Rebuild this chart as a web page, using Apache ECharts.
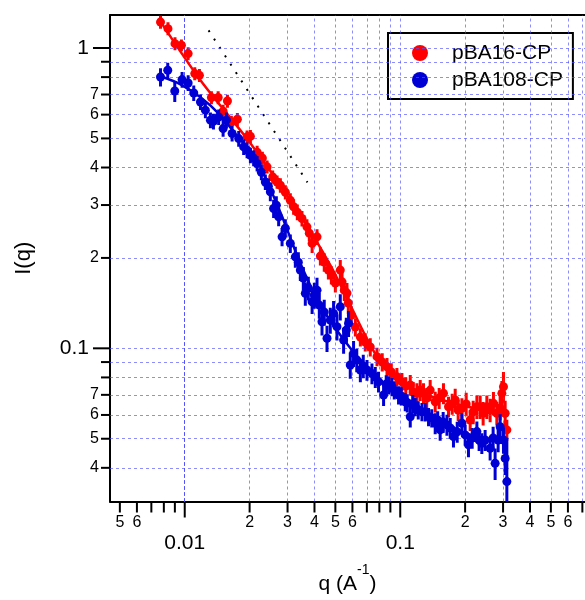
<!DOCTYPE html>
<html><head><meta charset="utf-8">
<script src="https://cdn.jsdelivr.net/npm/echarts@6/dist/echarts.min.js"></script>
<style>html,body{margin:0;padding:0;background:#fff}#c{width:585px;height:600px}</style>
</head><body><div id="c"></div><script>
// ---- data ----
const qRed = [0.00772,0.00836,0.00901,0.00965,0.01037,0.01113,0.0117,0.0133,0.01429,0.01507,
  0.01578,0.01646,0.01755,0.01947,0.02017,0.02167,0.02292,0.0241,0.02559,0.02682,
  0.02778,0.0293,0.0309,0.032,0.0333,0.035,0.0369,0.03785,0.039,0.0411,
  0.0426,0.0444,0.0464,0.0479,0.05,0.0527,0.0537,0.055,0.0566,0.0574,
  0.0593,0.0619,0.0653,0.0688,0.0726,0.078,0.0825,0.0868,0.0909,0.0965,
  0.1018,0.1061,0.1113,0.1149,0.1195,0.1238,0.1282,0.1327,0.1377,0.1453,
  0.1516,0.1587,0.1675,0.1742,0.1799,0.1857,0.1932,0.2023,0.2111,0.218,
  0.2268,0.2349,0.2425,0.2523,0.2613,0.2707,0.2807,0.2908,0.2962,0.3013,0.3068,0.3124];
const iRed = [1.22,1.16,1.034,1.021,0.958,0.822,0.811,0.684,0.684,0.616,
  0.666,0.567,0.579,0.506,0.508,0.45,0.43,0.402,0.372,0.358,
  0.349,0.331,0.311,0.296,0.284,0.2706,0.2538,0.2418,0.2235,0.2351,
  0.2028,0.1936,0.1822,0.1753,0.1649,0.1822,0.1665,0.1562,0.1527,0.1415,
  0.129,0.1177,0.109,0.1049,0.101,0.0938,0.09,0.0868,0.0834,0.0804,
  0.0774,0.0749,0.0755,0.0715,0.0708,0.0726,0.0708,0.0683,0.0726,0.0664,
  0.0683,0.0708,0.0639,0.0653,0.0673,0.0623,0.0631,0.0653,0.0577,0.0614,
  0.0639,0.0639,0.0608,0.0639,0.0623,0.0656,0.0608,0.0633,0.0708,0.0745,0.0608,0.0535];
const eRed = [0.05,0.05,0.05,0.045,0.05,0.05,0.05,0.05,0.05,0.05,
  0.05,0.05,0.05,0.05,0.05,0.05,0.05,0.05,0.05,0.05,
  0.055,0.055,0.055,0.06,0.06,0.06,0.06,0.06,0.07,0.06,
  0.07,0.07,0.07,0.07,0.07,0.08,0.08,0.08,0.08,0.08,
  0.07,0.07,0.07,0.07,0.07,0.07,0.07,0.07,0.07,0.07,
  0.07,0.07,0.08,0.08,0.08,0.08,0.08,0.08,0.08,0.08,
  0.08,0.08,0.08,0.08,0.09,0.08,0.08,0.09,0.08,0.09,
  0.09,0.09,0.09,0.09,0.09,0.09,0.09,0.09,0.1,0.12,0.1,0.08];

const qBlue = [0.00772,0.00834,0.00899,0.00972,0.01037,0.01101,0.01183,0.01247,0.01316,0.01359,
  0.01437,0.01507,0.01561,0.01659,0.0178,0.01877,0.01947,0.02017,0.02089,0.02167,
  0.02268,0.02366,0.02444,0.02496,0.02585,0.02661,0.02728,0.02829,0.0293,0.0309,
  0.0326,0.03366,0.03439,0.0355,0.03627,0.03745,0.039,0.03993,0.0411,0.04212,
  0.04335,0.0444,0.04573,0.04736,0.04905,0.05086,0.0527,0.0546,0.0562,0.05757,
  0.05863,0.06073,0.06284,0.0653,0.06737,0.0701,0.0739,0.0766,0.0793,0.0837,
  0.0861,0.0883,0.0915,0.0938,0.0982,0.1011,0.1055,0.1078,0.1113,0.1143,
  0.1174,0.1212,0.1261,0.1306,0.1353,0.14,0.1453,0.1492,0.1532,0.1582,
  0.1647,0.1706,0.1766,0.1838,0.1932,0.2001,0.2073,0.2157,0.2268,0.2323,
  0.2391,0.2477,0.2613,0.2698,0.2756,0.2846,0.2908,0.3013,0.3068,0.3124];
const iBlue = [0.801,0.843,0.719,0.785,0.765,0.708,0.661,0.621,0.575,0.57,
  0.589,0.539,0.575,0.519,0.4994,0.4685,0.4568,0.4395,0.43,0.4125,
  0.3859,0.358,0.3467,0.3319,0.2922,0.2997,0.2741,0.2351,0.2513,0.2235,
  0.2017,0.1936,0.1822,0.1713,0.1524,0.1587,0.1429,0.1504,0.1562,0.1393,
  0.1226,0.132,0.108,0.1242,0.1307,0.118,0.1375,0.1065,0.115,0.1211,
  0.088,0.0962,0.0914,0.0847,0.0873,0.0847,0.0825,0.0802,0.0774,0.0699,
  0.076,0.0755,0.0745,0.0726,0.0699,0.0694,0.0664,0.0657,0.0592,0.0653,
  0.0639,0.0623,0.0615,0.0614,0.0592,0.0586,0.0563,0.0577,0.0535,0.0568,
  0.0556,0.0543,0.0508,0.0527,0.0563,0.0515,0.0477,0.0503,0.0528,0.0495,
  0.0483,0.0495,0.0465,0.0503,0.0414,0.0495,0.0548,0.0495,0.043,0.036];
const eBlue = [0.07,0.06,0.08,0.06,0.06,0.06,0.06,0.06,0.06,0.06,
  0.06,0.06,0.06,0.06,0.06,0.06,0.06,0.06,0.06,0.06,
  0.06,0.06,0.06,0.07,0.07,0.07,0.07,0.07,0.07,0.07,
  0.08,0.08,0.08,0.09,0.09,0.09,0.09,0.1,0.1,0.1,
  0.1,0.1,0.1,0.1,0.1,0.1,0.1,0.1,0.1,0.1,
  0.1,0.1,0.09,0.09,0.09,0.08,0.08,0.08,0.08,0.08,
  0.07,0.07,0.07,0.07,0.07,0.07,0.07,0.07,0.08,0.07,
  0.07,0.07,0.07,0.07,0.07,0.07,0.08,0.07,0.08,0.08,
  0.08,0.08,0.08,0.08,0.08,0.08,0.09,0.08,0.08,0.08,
  0.08,0.08,0.09,0.09,0.12,0.09,0.1,0.1,0.12,0.4];

const qFitRed = [0.00755,0.01183,0.02017,0.03439,0.04736,0.05863,0.0726,0.0852,0.1,0.1377,0.1897,0.2613,0.3124];
const iFitRed = [1.255,0.781,0.482,0.2776,0.1892,0.1393,0.1025,0.086,0.0772,0.0694,0.0648,0.0618,0.0604];
const qFitBlue = [0.00772,0.00955,0.01183,0.01464,0.01812,0.02017,0.02244,0.02778,0.03439,0.0426,0.0527,0.0653,0.0808,0.1,0.1377,0.1897,0.2349,0.2613,0.3124];
const iFitBlue = [0.805,0.757,0.685,0.597,0.493,0.4568,0.401,0.284,0.1921,0.1393,0.1107,0.0914,0.0784,0.0705,0.0604,0.0531,0.0503,0.0495,0.0495];

const qSlope = [0.0129, 0.0371];
const iSlope = [1.145, 0.357];

const xTicks = [0.005,0.006,0.007,0.008,0.009,0.01,0.02,0.03,0.04,0.05,0.06,0.07,0.08,0.09,0.1,0.2,0.3,0.4,0.5,0.6,0.7];
const xTickText = ['5','6','','','','0.01','2','3','4','5','6','','','','0.1','2','3','4','5','6',''];
const xMajor = [0.01, 0.1];
const yTicks = [0.04,0.05,0.06,0.07,0.08,0.09,0.1,0.2,0.3,0.4,0.5,0.6,0.7,0.8,0.9,1];
const yTickText = ['4','5','6','7','','','0.1','2','3','4','5','6','7','','','1'];
const yMajor = [0.1, 1];

const seriesNames = ['pBA16-CP', 'pBA108-CP'];
const xTitle = 'q (A';
const xTitleSup = '-1';
const yTitle = 'I(q)';

// ---- chart ----
const FONT = '"Liberation Sans", Arial, sans-serif';
const RED = '#ff0000', BLUE = '#0000d4';
const X_MIN = 0.0045, X_MAX = 0.72, Y_MIN = 0.0309, Y_MAX = 1.288;
const GRID_COLOR = 'rgba(80,80,255,0.65)';

const pts = (q, I) => q.map((v, i) => [v, I[i]]);
const errs = (q, I, e) => q.map((v, i) => [v, I[i] * (1 - e[i]), I[i] * (1 + e[i])]);

function errSeries(name, data, color, z) {
  return {
    type: 'custom', name, data, z, clip: true, silent: true,
    encode: { x: 0, y: [1, 2] },
    renderItem: (params, api) => {
      const x = api.value(0);
      const lo = api.coord([x, api.value(1)]);
      const hi = api.coord([x, api.value(2)]);
      return { type: 'line', shape: { x1: lo[0], y1: lo[1], x2: hi[0], y2: hi[1] },
               style: { stroke: color, lineWidth: 3 } };
    }
  };
}

const chart = echarts.init(document.getElementById('c'), null, { renderer: 'canvas' });
const option = {
  animation: false,
  backgroundColor: '#fff',
  grid: { left: 110, right: 0, top: 15, bottom: 98, containLabel: false },
  xAxis: [{
    type: 'log', logBase: 10, min: X_MIN, max: X_MAX,
    axisLine: { show: true, lineStyle: { color: '#000', width: 2 } },
    axisTick: { show: false }, axisLabel: { show: false }, splitLine: { show: false },
    name: '{a|' + xTitle + '}{s|' + xTitleSup + '}{a|)}', nameLocation: 'middle', nameGap: 62,
    nameTextStyle: { rich: {
      a: { fontSize: 21, fontFamily: FONT, color: '#000', lineHeight: 42, verticalAlign: 'middle' },
      s: { fontSize: 14, fontFamily: FONT, color: '#000', lineHeight: 14, verticalAlign: 'top' } } }
  }, {
    type: 'log', logBase: 10, min: X_MIN, max: X_MAX, position: 'top',
    axisLine: { show: true, lineStyle: { color: '#000', width: 2 } },
    axisTick: { show: false }, axisLabel: { show: false }, splitLine: { show: false }
  }],
  yAxis: [{
    type: 'log', logBase: 10, min: Y_MIN, max: Y_MAX,
    axisLine: { show: true, lineStyle: { color: '#000', width: 2 } },
    axisTick: { show: false }, axisLabel: { show: false }, splitLine: { show: false },
    name: yTitle, nameLocation: 'middle', nameRotate: 90, nameGap: 75,
    nameTextStyle: { fontSize: 22, fontFamily: FONT, color: '#000', lineHeight: 22 }
  }],
  legend: {
    data: seriesNames, orient: 'vertical', left: 388, top: 33, icon: 'circle',
    itemWidth: 16, itemHeight: 16, itemGap: 3, padding: [8, 10, 7, 24],
    borderColor: '#000', borderWidth: 2, backgroundColor: '#fff', selectedMode: false,
    textStyle: { fontSize: 21, fontFamily: FONT, color: '#000', lineHeight: 24, padding: [0, 0, 0, 19] }
  },
  series: [
    { type: 'line', name: 'grid', data: [], z: 1, silent: true,
      markLine: { silent: true, symbol: 'none', animation: false, label: { show: false },
        lineStyle: { type: [3, 3], color: GRID_COLOR, width: 1 },
        data: xTicks.map(v => ({ xAxis: v })).concat(yTicks.map(v => ({ yAxis: v }))) } },
    { type: 'line', name: 'slope', data: pts(qSlope, iSlope), z: 3, showSymbol: false, silent: true,
      lineStyle: { color: '#000', width: 2, type: [2, 8] } },
    errSeries('pBA16-CP err', errs(qRed, iRed, eRed), RED, 4),
    { type: 'scatter', name: seriesNames[0], data: pts(qRed, iRed), z: 5, symbol: 'circle', symbolSize: 9,
      itemStyle: { color: RED, opacity: 1 } },
    { type: 'line', name: 'pBA16-CP fit', data: pts(qFitRed, iFitRed), z: 6, showSymbol: false, smooth: 0.3,
      silent: true, lineStyle: { color: RED, width: 2.5 } },
    errSeries('pBA108-CP err', errs(qBlue, iBlue, eBlue), BLUE, 7),
    { type: 'scatter', name: seriesNames[1], data: pts(qBlue, iBlue), z: 8, symbol: 'circle', symbolSize: 9,
      itemStyle: { color: BLUE, opacity: 1 } },
    { type: 'line', name: 'pBA108-CP fit', data: pts(qFitBlue, iFitBlue), z: 9, showSymbol: false, smooth: 0.3,
      silent: true, lineStyle: { color: BLUE, width: 2.5 } }
  ]
};
chart.setOption(option);

// ---- tick marks and tick labels placed through the axis scales ----
const axY = chart.convertToPixel({ yAxisIndex: 0 }, Y_MIN);
const axX = chart.convertToPixel({ xAxisIndex: 0 }, X_MIN);
const g = [];
xTicks.forEach((v, i) => {
  const x = chart.convertToPixel({ xAxisIndex: 0 }, v);
  const major = xMajor.includes(v);
  g.push({ type: 'line', silent: true, shape: { x1: x, y1: axY, x2: x, y2: axY + (major ? 16 : 11) },
           style: { stroke: '#000', lineWidth: 2 } });
  if (xTickText[i]) g.push({ type: 'text', silent: true, x: x, y: axY + (major ? 42 : 21),
    style: { text: xTickText[i], align: 'center', verticalAlign: 'middle',
             fontSize: major ? 21 : 16, fontFamily: FONT, fill: '#000' } });
});
yTicks.forEach((v, i) => {
  const y = chart.convertToPixel({ yAxisIndex: 0 }, v);
  const major = yMajor.includes(v);
  g.push({ type: 'line', silent: true, shape: { x1: axX - (major ? 17 : 9), y1: y, x2: axX, y2: y },
           style: { stroke: '#000', lineWidth: 2 } });
  if (yTickText[i]) g.push({ type: 'text', silent: true, x: major ? axX - 21 : axX - 11, y: y,
    style: { text: yTickText[i], align: 'right', verticalAlign: 'middle',
             fontSize: major ? 21 : 16, fontFamily: FONT, fill: '#000' } });
});
chart.setOption({ graphic: g });
</script></body></html>
